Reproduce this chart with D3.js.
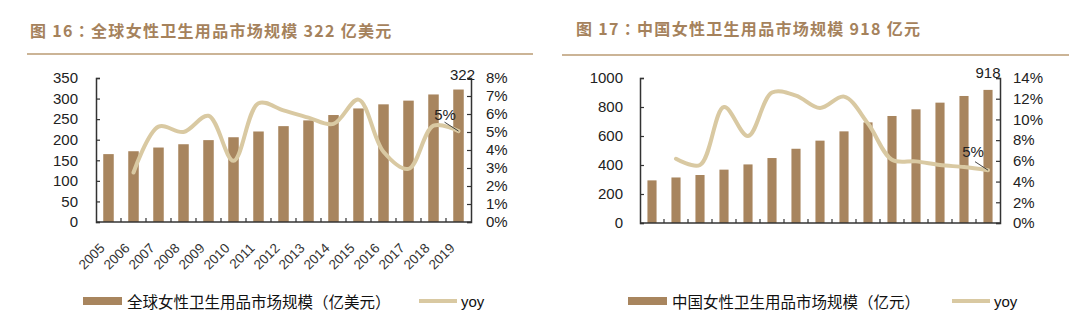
<!DOCTYPE html>
<html>
<head>
<meta charset="utf-8">
<script src="https://cdn.jsdelivr.net/npm/d3@7"></script>
<style>
  html, body { margin: 0; padding: 0; background: #fff; }
  svg { display: block; }
  text { font-family: "Liberation Sans", Arial, "Noto Sans CJK SC", sans-serif; }
  .cjk { font-family: "Noto Sans CJK SC", "Liberation Sans", sans-serif; }
</style>
</head>
<body>
<svg id="chart" width="1080" height="332"></svg>
<script>
// ---------------- data ----------------
const years = ["2005","2006","2007","2008","2009","2010","2011","2012","2013","2014","2015","2016","2017","2018","2019"];

const globalTitle = "图 16：全球女性卫生用品市场规模 322 亿美元";
const globalBarName = "全球女性卫生用品市场规模（亿美元）";
const globalMarket = [165, 172, 181, 189, 199, 206, 220, 233, 247, 260, 276, 286, 295, 310, 322];
const globalYoy = [null, 2.75, 5.3, 5.0, 5.9, 3.4, 6.6, 6.2, 5.8, 5.45, 6.8, 3.9, 2.95, 5.35, 5.05];
const globalLeftTicks = [0, 50, 100, 150, 200, 250, 300, 350];
const globalRightTicks = [0, 1, 2, 3, 4, 5, 6, 7, 8];

const chinaTitle = "图 17：中国女性卫生用品市场规模 918 亿元";
const chinaBarName = "中国女性卫生用品市场规模（亿元）";
const chinaMarket = [294, 314, 331, 368, 404, 448, 512, 568, 632, 694, 738, 784, 830, 876, 918];
const chinaYoy = [null, 6.2, 5.6, 11.2, 8.4, 12.6, 12.3, 11.1, 12.2, 9.6, 6.1, 5.95, 5.6, 5.4, 5.1];
const chinaLeftTicks = [0, 200, 400, 600, 800, 1000];
const chinaRightTicks = [0, 2, 4, 6, 8, 10, 12, 14];

const lineName = "yoy";
const lastBarLabels = ["322", "918"];
const lastYoyLabel = "5%";

// ---------------- style ----------------
const BAR = "#a8855e";
const LINE = "#d9c9a2";
const TITLE = "#a5825c";
const RULE = "#cbb496";
const AXIS = "#333";
const TXT = "#222";

const svg = d3.select("#chart");

function drawChart(o) {
  const g = svg.append("g");

  // title + rule (full-width colon drawn with a centred-punctuation CJK face)
  const t = g.append("text").attr("class", "cjk")
    .attr("x", o.titleX).attr("y", o.titleY)
    .attr("dominant-baseline", "central")
    .attr("font-size", 16).attr("font-weight", "bold")
    .attr("letter-spacing", 1.3)
    .attr("fill", TITLE);
  const parts = o.title.split("：");
  t.append("tspan").text(parts[0]);
  t.append("tspan").attr("font-family", "'Noto Sans CJK TC', 'Noto Sans CJK SC'").text("：");
  t.append("tspan").text(parts[1]);

  g.append("line")
    .attr("x1", o.ruleX1).attr("x2", o.ruleX2)
    .attr("y1", o.ruleY).attr("y2", o.ruleY)
    .attr("stroke", RULE).attr("stroke-width", 2);

  const x = d3.scaleBand().domain(years)
    .range([o.x0, o.x1]).paddingInner(o.pad).paddingOuter(o.pad / 2);
  const y = d3.scaleLinear().domain([0, d3.max(o.leftTicks)]).range([o.yBot, o.yTop]);
  const y2 = d3.scaleLinear().domain([0, d3.max(o.rightTicks)]).range([o.yBot, o.yTop]);

  // bars
  g.append("g").selectAll("rect").data(o.bars).join("rect")
    .attr("x", (d, i) => x(years[i]))
    .attr("y", d => y(d))
    .attr("width", x.bandwidth())
    .attr("height", d => y(0) - y(d))
    .attr("fill", BAR);

  // yoy line
  const pts = o.yoy.map((v, i) => [years[i], v]).filter(d => d[1] != null);
  const line = d3.line()
    .x(d => x(d[0]) + x.bandwidth() / 2)
    .y(d => y2(d[1]))
    .curve(d3.curveCatmullRom.alpha(0.5));
  g.append("path").datum(pts)
    .attr("d", line)
    .attr("fill", "none")
    .attr("stroke", LINE)
    .attr("stroke-width", 4)
    .attr("stroke-linecap", "round")
    .attr("stroke-linejoin", "round");

  // left axis
  const ax = g.append("g").attr("transform", `translate(${o.x0},0)`)
    .call(d3.axisLeft(y).tickValues(o.leftTicks).tickSize(-4).tickPadding(o.lPad)
      .tickFormat(d3.format("d")));
  // right axis
  const ax2 = g.append("g").attr("transform", `translate(${o.x1},0)`)
    .call(d3.axisRight(y2).tickValues(o.rightTicks).tickSize(-4).tickPadding(o.rPad)
      .tickFormat(d => d + "%"));
  [ax, ax2].forEach(a => {
    a.selectAll(".domain").attr("stroke", AXIS).attr("stroke-width", 1.5);
    a.selectAll(".tick line").attr("stroke", AXIS).attr("stroke-width", 1.2);
    a.selectAll(".tick text").attr("font-size", 15).attr("fill", TXT)
      .attr("font-family", "'Liberation Sans', Arial, sans-serif");
  });

  // bottom axis line
  const xb = g.append("g").attr("transform", `translate(0,${o.yBot})`);
  xb.append("line").attr("x1", o.x0).attr("x2", o.x1).attr("y1", 0).attr("y2", 0)
    .attr("stroke", AXIS).attr("stroke-width", 1.5);
  const step = x.step();
  xb.selectAll("line.tk").data(years.slice(0, -1)).join("line").attr("class", "tk")
    .attr("x1", d => x(d) + x.bandwidth() + (step - x.bandwidth()) / 2)
    .attr("x2", d => x(d) + x.bandwidth() + (step - x.bandwidth()) / 2)
    .attr("y1", 0).attr("y2", -4)
    .attr("stroke", AXIS).attr("stroke-width", 1.2);

  if (o.showYears) {
    xb.selectAll("text.yr").data(years).join("text").attr("class", "yr")
      .attr("transform", d => `translate(${x(d) + x.bandwidth() / 2 - 3},27) rotate(-45)`)
      .attr("text-anchor", "end")
      .attr("font-size", 13.5).attr("fill", "#333")
      .text(d => d);
  }

  // labels on last points
  const lastYear = years[years.length - 1];
  const cx = x(lastYear) + x.bandwidth() / 2;
  const lastBar = o.bars[o.bars.length - 1];
  g.append("text")
    .attr("x", cx + o.barLblDx).attr("y", y(lastBar) + o.barLblDy)
    .attr("text-anchor", "middle").attr("font-size", 15).attr("fill", TXT)
    .text(o.barLabel);
  const lastYoy = o.yoy[o.yoy.length - 1];
  const py = y2(lastYoy);
  g.append("line")
    .attr("x1", cx + o.ldX).attr("y1", py + o.ldY)
    .attr("x2", cx).attr("y2", py)
    .attr("stroke", "#444").attr("stroke-width", 1);
  g.append("text")
    .attr("x", cx + o.pctDx).attr("y", py + o.pctDy)
    .attr("text-anchor", "middle").attr("font-size", 15).attr("fill", TXT)
    .text(lastYoyLabel);

  // legend
  const lg = g.append("g");
  lg.append("rect").attr("x", o.legX).attr("y", 297).attr("width", 39).attr("height", 8).attr("fill", BAR);
  lg.append("text").attr("class", "cjk")
    .attr("x", o.legX + 44).attr("y", 301).attr("dominant-baseline", "central")
    .attr("font-size", 15.5).attr("fill", "#111").text(o.barName);
  lg.append("line").attr("x1", o.legLineX).attr("x2", o.legLineX + 38)
    .attr("y1", 301).attr("y2", 301).attr("stroke", LINE).attr("stroke-width", 4);
  lg.append("text")
    .attr("x", o.legLineX + 42).attr("y", 301).attr("dominant-baseline", "central")
    .attr("font-size", 15).attr("fill", "#111").text(lineName);
}

drawChart({
  title: globalTitle, titleX: 30, titleY: 30,
  ruleX1: 27, ruleX2: 533, ruleY: 54,
  x0: 96, x1: 471, yTop: 78, yBot: 222, pad: 0.58,
  bars: globalMarket, yoy: globalYoy,
  leftTicks: globalLeftTicks, rightTicks: globalRightTicks,
  lPad: 18, rPad: 15, showYears: true,
  barLabel: lastBarLabels[0], barLblDx: 4, barLblDy: -9.5,
  ldX: -14, ldY: -9, pctDx: -13.5, pctDy: -11.5,
  legX: 83, legLineX: 419, barName: globalBarName
});

drawChart({
  title: chinaTitle, titleX: 576, titleY: 28,
  ruleX1: 562, ruleX2: 1069, ruleY: 55,
  x0: 640, x1: 1000, yTop: 78, yBot: 223, pad: 0.62,
  bars: chinaMarket, yoy: chinaYoy,
  leftTicks: chinaLeftTicks, rightTicks: chinaRightTicks,
  lPad: 17, rPad: 13, showYears: false,
  barLabel: lastBarLabels[1], barLblDx: 0, barLblDy: -11.5,
  ldX: -13, ldY: -8.5, pctDx: -15, pctDy: -13.5,
  legX: 628, legLineX: 952, barName: chinaBarName
});
</script>
</body>
</html>
